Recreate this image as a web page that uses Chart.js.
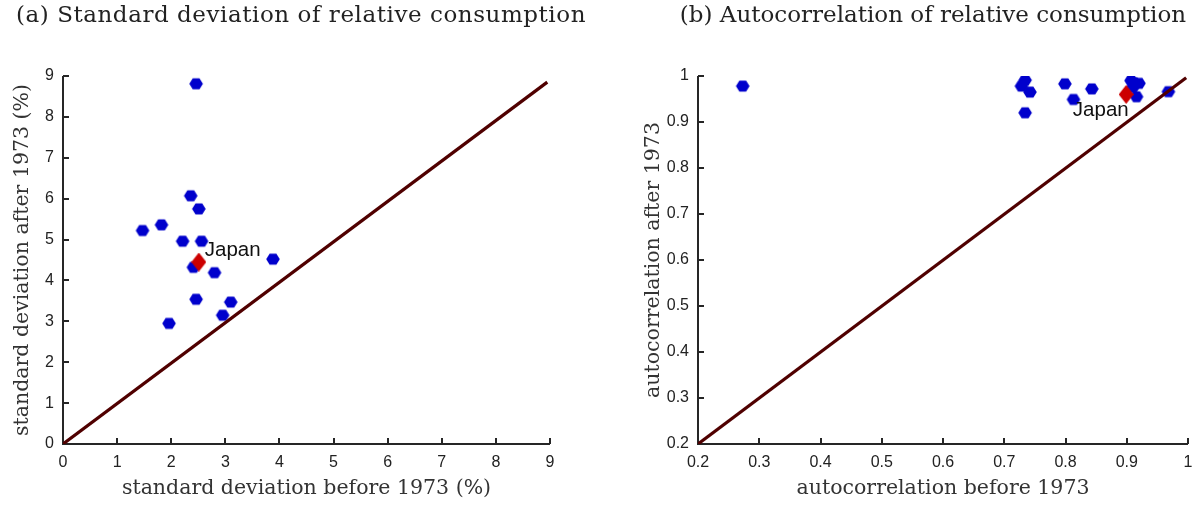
<!DOCTYPE html>
<html lang="en">
<head>
<meta charset="UTF-8">
<title>Relative consumption before and after 1973</title>
<script src="https://cdn.jsdelivr.net/npm/chart.js"></script>
<style>
body { margin: 0; background: #fff; }
#page { position: relative; width: 1196px; height: 506px; overflow: hidden; }
.panel { position: absolute; top: 0; width: 598px; height: 506px; }
#panelA { left: 0; }
#panelB { left: 598px; }
.caption {
    position: absolute;
    top: 1px;
    font-family: "DejaVu Serif", serif;
    font-size: 23px;
    line-height: 26px;
    color: #222;
    white-space: nowrap;
    transform: translateX(-50%);
}
</style>
</head>
<body>
<div id="page">
    <div class="panel" id="panelA"><canvas id="sdChart"></canvas></div>
    <div class="panel" id="panelB"><canvas id="acChart"></canvas></div>
    <div class="caption" style="left:301px; letter-spacing:0.55px">(a) Standard deviation of relative consumption</div>
    <div class="caption" style="left:933px">(b) Autocorrelation of relative consumption</div>
</div>
<script>
// (a) standard deviation, % (before 1973 / after 1973)
const sdBefore = [2.46, 2.36, 2.51, 1.47, 1.82, 2.21, 2.56, 2.41, 2.80, 3.88, 2.46, 3.10, 2.95, 1.96];
const sdAfter  = [8.81, 6.07, 5.75, 5.22, 5.36, 4.96, 4.96, 4.32, 4.19, 4.52, 3.54, 3.47, 3.15, 2.95];
const sdJapan = [2.51, 4.45];
const sdJapanText = [2.62, 4.74];
const sdDiagonalX = [0, 8.95];
const sdDiagonalY = [0, 8.85];
const sdTicks = [0, 1, 2, 3, 4, 5, 6, 7, 8, 9];
const sdTickLabels = ['0', '1', '2', '3', '4', '5', '6', '7', '8', '9'];

// (b) autocorrelation (before 1973 / after 1973)
const acBefore = [0.273, 0.734, 0.728, 0.742, 0.734, 0.799, 0.813, 0.843, 0.907, 0.920, 0.910, 0.916, 0.968, 0.912];
const acAfter  = [0.978, 0.991, 0.978, 0.965, 0.920, 0.983, 0.949, 0.972, 0.990, 0.984, 0.975, 0.955, 0.966, 0.985];
const acJapan = [0.899, 0.960];
const acJapanText = [0.812, 0.926];
const acDiagonalX = [0.2, 0.997];
const acDiagonalY = [0.2, 0.996];
const acTicks = [0.2, 0.3, 0.4, 0.5, 0.6, 0.7, 0.8, 0.9, 1];
const acTickLabels = ['0.2', '0.3', '0.4', '0.5', '0.6', '0.7', '0.8', '0.9', '1'];

const AXIS_COLOR = '#262626';
const DOT_BLUE = 'rgb(0, 0, 204)';
const JAPAN_RED = 'rgb(204, 0, 0)';
const LINE_RED = 'rgb(80, 0, 0)';
const SERIF = '"DejaVu Serif", serif';
const SANS = '"Liberation Sans", Arial, sans-serif';

// marker images
function hexMarker(r, color) {
    const c = document.createElement('canvas');
    c.width = c.height = Math.ceil(2 * r + 2);
    const g = c.getContext('2d');
    g.fillStyle = color;
    g.beginPath();
    for (let i = 0; i < 6; i++) {
        const a = Math.PI / 3 * i;
        g.lineTo(c.width / 2 + r * Math.cos(a), c.height / 2 + r * 0.92 * Math.sin(a));
    }
    g.closePath();
    g.fill();
    return c;
}
function diamondMarker(w, h, color) {
    const c = document.createElement('canvas');
    c.width = w;
    c.height = h;
    const g = c.getContext('2d');
    g.fillStyle = color;
    g.beginPath();
    g.moveTo(w / 2, 0);
    g.lineTo(w, h / 2);
    g.lineTo(w / 2, h);
    g.lineTo(0, h / 2);
    g.closePath();
    g.fill();
    return c;
}
const hexImg = hexMarker(6.8, DOT_BLUE);
const diaImg = diamondMarker(15, 19, JAPAN_RED);

// matlab style box: left + bottom axis lines, ticks pointing inward, Japan label
const matlabAxes = {
    id: 'matlabAxes',
    beforeDatasetsDraw(chart) {
        const {ctx, chartArea: a, scales: {x, y}} = chart;
        ctx.save();
        ctx.strokeStyle = AXIS_COLOR;
        ctx.lineWidth = 2;
        ctx.beginPath();
        ctx.moveTo(a.left, a.top);
        ctx.lineTo(a.left, a.bottom);
        ctx.lineTo(a.right, a.bottom);
        x.ticks.forEach(t => {
            const px = Math.round(x.getPixelForValue(t.value));
            ctx.moveTo(px, a.bottom);
            ctx.lineTo(px, a.bottom - 6);
        });
        y.ticks.forEach(t => {
            const py = Math.round(y.getPixelForValue(t.value));
            ctx.moveTo(a.left, py);
            ctx.lineTo(a.left + 6, py);
        });
        ctx.stroke();
        ctx.restore();
    },
    afterDatasetsDraw(chart, args, opts) {
        const {ctx, scales: {x, y}} = chart;
        ctx.save();
        ctx.font = '20.5px ' + SANS;
        ctx.fillStyle = '#111';
        ctx.textAlign = 'left';
        ctx.textBaseline = 'middle';
        ctx.fillText(opts.text, x.getPixelForValue(opts.at[0]), y.getPixelForValue(opts.at[1]));
        ctx.restore();
    }
};

function makeChart(id, cfg) {
    const points = cfg.before.map((v, i) => ({x: v, y: cfg.after[i]}));
    return new Chart(document.getElementById(id), {
        type: 'scatter',
        data: {
            datasets: [
                {
                    label: '45 degree line',
                    type: 'line',
                    data: cfg.diagX.map((v, i) => ({x: v, y: cfg.diagY[i]})),
                    borderColor: LINE_RED,
                    borderWidth: 3.2,
                    pointRadius: 0,
                    order: 0
                },
                {
                    label: 'Japan',
                    data: [{x: cfg.japan[0], y: cfg.japan[1]}],
                    pointStyle: diaImg,
                    order: 1
                },
                {
                    label: 'countries',
                    data: points,
                    pointStyle: hexImg,
                    order: 2
                }
            ]
        },
        options: {
            responsive: true,
            maintainAspectRatio: false,
            animation: false,
            events: [],
            layout: {padding: {top: 76, right: cfg.padRight, left: 0, bottom: 0}},
            plugins: {
                legend: {display: false},
                tooltip: {enabled: false},
                matlabAxes: {text: 'Japan', at: cfg.japanText}
            },
            scales: {
                x: {
                    type: 'linear',
                    min: cfg.ticks[0],
                    max: cfg.ticks[cfg.ticks.length - 1],
                    grid: {display: false, drawTicks: false},
                    border: {display: false},
                    afterBuildTicks: s => { s.ticks = cfg.ticks.map(v => ({value: v})); },
                    afterFit: s => {
                        s.height = 62;
                        // last tick label only overhangs by half its width
                        s.paddingRight = 4;
                    },
                    ticks: {
                        padding: 9,
                        color: '#222',
                        maxRotation: 0,
                        font: {family: SANS, size: 16},
                        callback: (v, i) => cfg.labels[i]
                    },
                    title: {
                        display: true,
                        text: cfg.xTitle,
                        color: '#333',
                        font: {family: SERIF, size: 20.5},
                        padding: {top: 0, bottom: 5}
                    }
                },
                y: {
                    type: 'linear',
                    min: cfg.ticks[0],
                    max: cfg.ticks[cfg.ticks.length - 1],
                    grid: {display: false, drawTicks: false},
                    border: {display: false},
                    afterBuildTicks: s => { s.ticks = cfg.ticks.map(v => ({value: v})); },
                    afterFit: s => { s.width = cfg.yWidth; },
                    ticks: {
                        padding: 9,
                        color: '#222',
                        font: {family: SANS, size: 16},
                        callback: (v, i) => cfg.labels[i]
                    },
                    title: {
                        display: true,
                        text: cfg.yTitle,
                        color: '#333',
                        font: {family: SERIF, size: 20.5},
                        padding: {top: cfg.yTitlePad, bottom: 0}
                    }
                }
            }
        },
        plugins: [matlabAxes]
    });
}

makeChart('sdChart', {
    before: sdBefore, after: sdAfter, japan: sdJapan, japanText: sdJapanText,
    diagX: sdDiagonalX, diagY: sdDiagonalY, ticks: sdTicks, labels: sdTickLabels,
    xTitle: 'standard deviation before 1973 (%)',
    yTitle: 'standard deviation after 1973 (%)',
    yWidth: 63, yTitlePad: 10, padRight: 48
});
makeChart('acChart', {
    before: acBefore, after: acAfter, japan: acJapan, japanText: acJapanText,
    diagX: acDiagonalX, diagY: acDiagonalY, ticks: acTicks, labels: acTickLabels,
    xTitle: 'autocorrelation before 1973',
    yTitle: 'autocorrelation after 1973',
    yWidth: 100, yTitlePad: 43, padRight: 8
});
</script>
</body>
</html>
